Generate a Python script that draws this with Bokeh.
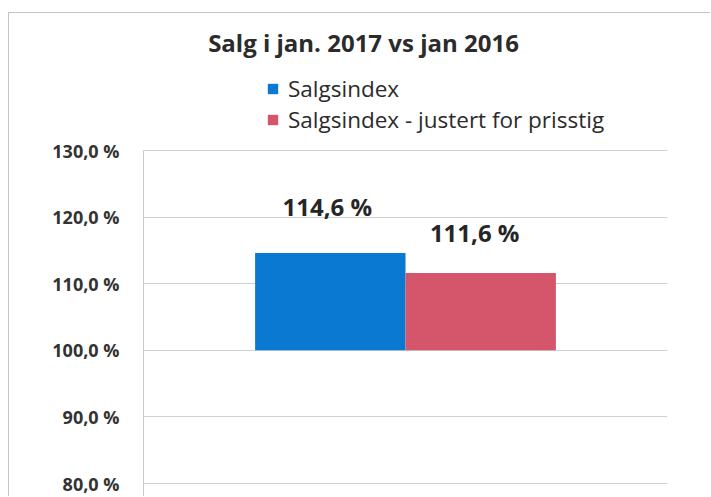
from bokeh.plotting import figure
from bokeh.models import (FactorRange, Range1d, FixedTicker, Legend, LegendItem,
                          Label, LabelSet, ColumnDataSource)
from bokeh.transform import dodge
from bokeh.core.properties import value
from bokeh.embed import file_html
from bokeh.resources import INLINE

# ---- data ----
title_text = "Salg i jan. 2017 vs jan 2016"
categories = ["jan. 2017"]
series_names = ["Salgsindex", "Salgsindex - justert for prisstig"]
salgsindex = [114.6]
salgsindex_justert = [111.6]
baseline = 100.0
y_ticks = [80, 90, 100, 110, 120, 130]
y_tick_labels = ["80,0 %", "90,0 %", "100,0 %", "110,0 %", "120,0 %", "130,0 %"]


def fmt(v):
    return f"{v:.1f}".replace(".", ",") + " %"


# ---- style ----
BLUE = "#0A79D1"
RED = "#D5566A"
TEXT = "#2B2B2B"
GRID = "#D0D0D0"
FONT = "Open Sans"

W, H = 702, 484
FL, FR = 134, 44
PX_PER_UNIT = 6.66
TOP_PAD = 137          # pixels from canvas top to the 130 gridline
BOT_PAD = 14           # pixels from the 80 gridline to canvas bottom
y_lo = y_ticks[0] - BOT_PAD / PX_PER_UNIT
y_hi = y_ticks[-1] + TOP_PAD / PX_PER_UNIT
FH = H                 # frame spans full height

p = figure(width=W, height=H,
           x_range=FactorRange(*categories, range_padding=0),
           y_range=Range1d(y_lo, y_hi),
           output_backend="svg", toolbar_location=None,
           x_axis_location=None,
           min_border_left=FL, min_border_right=FR,
           min_border_top=0, min_border_bottom=0)
p.styles = {"border-top": "1px solid #c4c4c4", "border-left": "1px solid #c4c4c4",
            "margin-top": "12px", "margin-left": "8px"}
p.outline_line_color = None
p.background_fill_color = "white"
p.border_fill_color = "white"

src = ColumnDataSource(dict(
    cat=categories,
    s1=salgsindex,
    s2=salgsindex_justert,
    l1=[fmt(v) for v in salgsindex],
    l2=[fmt(v) for v in salgsindex_justert],
))

BW = 0.287
r1 = p.vbar(x=dodge("cat", -BW / 2, range=p.x_range), top="s1", bottom=baseline,
            width=BW, source=src, fill_color=BLUE, line_color=None)
r2 = p.vbar(x=dodge("cat", BW / 2, range=p.x_range), top="s2", bottom=baseline,
            width=BW, source=src, fill_color=RED, line_color=None)

# axes & grid
p.yaxis.ticker = FixedTicker(ticks=y_ticks)
p.yaxis.bounds = (y_lo, y_ticks[-1])
p.yaxis.major_label_overrides = {t: l for t, l in zip(y_ticks, y_tick_labels)}
p.yaxis.axis_line_color = "#C8C8C8"
p.yaxis.major_tick_line_color = None
p.yaxis.minor_tick_line_color = None
p.yaxis.major_label_standoff = 18
p.yaxis.major_label_text_font = FONT
p.yaxis.major_label_text_font_style = "bold"
p.yaxis.major_label_text_font_size = "18px"
p.yaxis.major_label_text_color = "#333333"
p.xgrid.visible = False
p.ygrid.grid_line_color = GRID

# value labels
for col, lab, dx, dy, off in [("s1", "l1", -BW / 2, 37, -3), ("s2", "l2", BW / 2, 31, -6)]:
    p.add_layout(LabelSet(x=dodge("cat", dx, range=p.x_range), y=col, text=lab, source=src,
                          text_align="center", text_baseline="alphabetic",
                          x_offset=off, y_offset=dy,
                          text_font=value(FONT), text_font_style="bold",
                          text_font_size="24px", text_color="#262626"))

# title (screen units relative to the frame's bottom-left)
p.add_layout(Label(x=220, y=FH - 29, x_units="screen", y_units="screen",
                   text=title_text, text_align="center", text_baseline="alphabetic",
                   text_font=FONT, text_font_style="bold", text_font_size="24px",
                   text_color=TEXT))

# legend (tuple location = legend's bottom-left corner, relative to the frame)
legend = Legend(items=[LegendItem(label=series_names[0], renderers=[r1]),
                       LegendItem(label=series_names[1], renderers=[r2])],
                location=(123, FH - 122), orientation="vertical",
                padding=0, margin=0, spacing=-5,
                glyph_width=13, glyph_height=13, label_standoff=9,
                label_height=28,
                label_text_font=FONT, label_text_font_size="22.5px",
                label_text_color=TEXT,
                background_fill_alpha=0, border_line_color=None)
p.add_layout(legend)

open("out.html", "w").write(file_html(p, INLINE))
